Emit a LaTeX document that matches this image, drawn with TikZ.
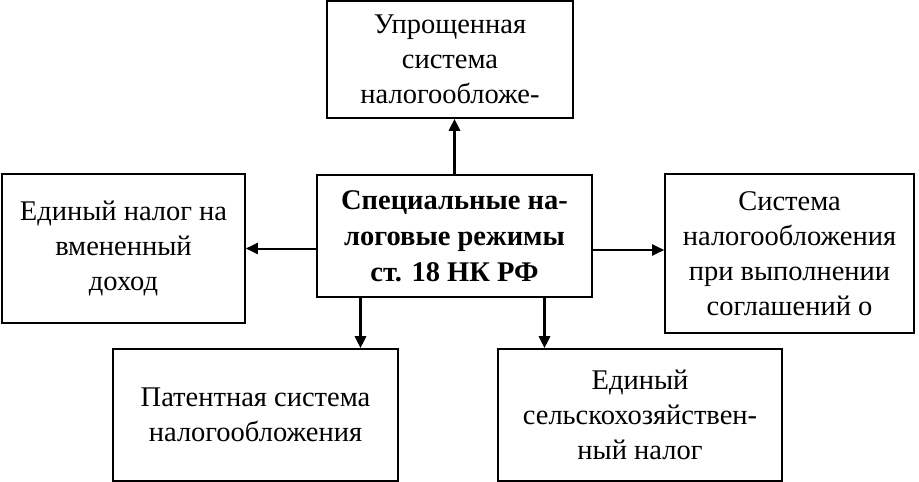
\documentclass[tikz,border=0pt]{standalone}
\usepackage{fontspec}
\setmainfont{Liberation Serif}
\usetikzlibrary{arrows.meta}
\begin{document}
\begin{tikzpicture}[x=1pt, y=-1pt, >={Triangle[length=12pt,width=11pt]}]
			\tikzset{regime/.style={draw, line width=1.6pt, inner sep=0pt, align=center, font=\fontsize{28.5}{35}\selectfont}}
			\useasboundingbox (0,0) rectangle (919,482);
			\node[regime, minimum width=275pt, minimum height=122pt, font=\bfseries\fontsize{28.5}{36}\selectfont] (centre) at (454.5,236) {Специальные на-\\логовые режимы\\ст. 18 НК РФ};
			\node[regime, minimum width=246pt, minimum height=117pt] (usn) at (450,59.5) {Упрощенная\\система\\налогообложе-};
			\node[regime, minimum width=243pt, minimum height=149pt] (envd) at (123.5,248.5) {Единый налог на\\вмененный\\доход};
			\node[regime, minimum width=249pt, minimum height=159pt] (srp) at (789.5,253.5) {Система\\налогообложения\\при выполнении\\соглашений о};
			\node[regime, minimum width=285pt, minimum height=132pt] (psn) at (255.5,415) {Патентная система\\налогообложения};
			\node[regime, minimum width=284pt, minimum height=132pt] (eshn) at (640,415) {Единый\\сельскохозяйствен-\\ный налог};
			\draw[->, line width=3pt] (centre.north) -- (centre.north |- usn.south);
			\draw[->, line width=2pt] (centre.west |- envd.east) -- (envd.east);
			\draw[->, line width=2pt] ([yshift=-14pt]centre.east) -- ([yshift=-14pt]centre.east -| srp.west);
			\draw[->, line width=3pt] ([xshift=-94pt]centre.south) -- ([xshift=-94pt]centre.south |- psn.north);
			\draw[->, line width=3pt] ([xshift=90pt]centre.south) -- ([xshift=90pt]centre.south |- eshn.north);
	\end{tikzpicture}
\end{document}
